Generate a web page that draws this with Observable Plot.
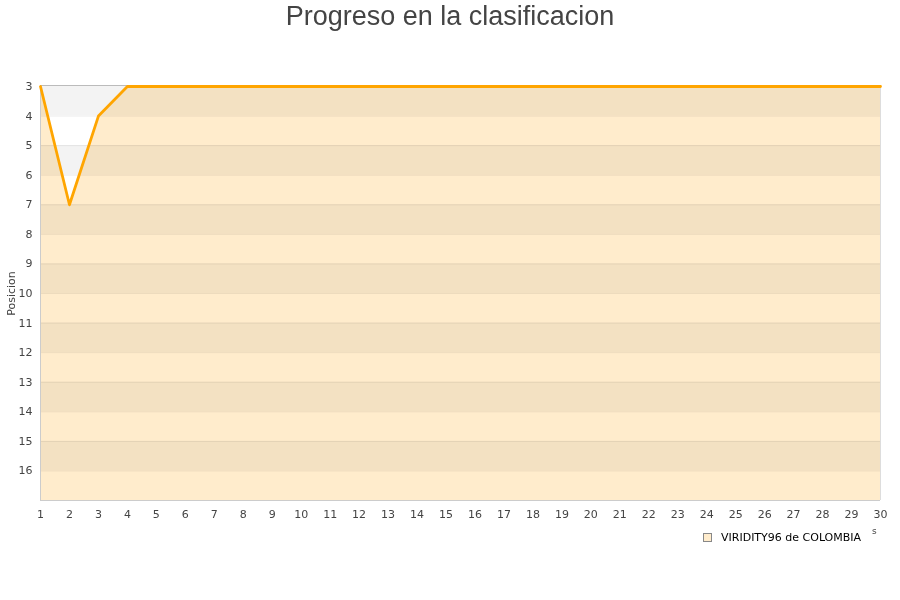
<!DOCTYPE html>
<html>
<head>
<meta charset="utf-8">
<script src="https://cdn.jsdelivr.net/npm/d3@7"></script>
<script src="https://cdn.jsdelivr.net/npm/@observablehq/plot@0.6"></script>
<style>
  html, body { margin: 0; padding: 0; background: #fff; }
  #wrap { position: relative; width: 900px; height: 600px; overflow: hidden; }
  #title { position: absolute; left: 0; top: 0; width: 900px; text-align: center;
           font-family: "Liberation Sans", Arial, sans-serif; font-size: 27px; color: #444; line-height: 32px; }
  #chart { position: absolute; left: 0; top: 50px; }
  #legend { position: absolute; left: 703px; top: 531px; font-family: "DejaVu Sans", sans-serif;
            font-size: 11px; color: #000; display: flex; align-items: center; }
  #legend .sw { width: 7px; height: 7px; border: 1px solid #888; background: #ffeccc; margin-right: 9px; }
  #xs { position: absolute; left: 872px; top: 526px; font-family: "DejaVu Sans", sans-serif; font-size: 9px; color: #444; }
</style>
</head>
<body>
<div id="wrap">
  <div id="title">Progreso en la clasificacion</div>
  <div id="chart"></div>
  <div id="legend"><span class="sw"></span><span>VIRIDITY96 de COLOMBIA</span></div>
  <div id="xs">s</div>
</div>
<script>
const jornadas = [1,2,3,4,5,6,7,8,9,10,11,12,13,14,15,16,17,18,19,20,21,22,23,24,25,26,27,28,29,30];
const posicion = [3,7,4,3,3,3,3,3,3,3,3,3,3,3,3,3,3,3,3,3,3,3,3,3,3,3,3,3,3,3];
const filas = [3,4,5,6,7,8,9,10,11,12,13,14,15,16];
const serie = "VIRIDITY96 de COLOMBIA";

const data = jornadas.map((j, i) => ({jornada: j, pos: posicion[i]}));
const rows = filas.map(f => ({y1: f, y2: f + 1, odd: f % 2 === 1}));

const chart = Plot.plot({
  width: 900,
  height: 480,
  marginTop: 36,
  marginBottom: 30,
  marginLeft: 40,
  marginRight: 20,
  style: {fontFamily: "DejaVu Sans, sans-serif", fontSize: "11px", color: "#444", background: "transparent"},
  x: {domain: [1, 30]},
  y: {domain: [3, 17], reverse: true},
  marks: [
    Plot.rect(rows, {x1: 1, x2: 30, y1: "y1", y2: "y2", fill: d => d.odd ? "#f3f3f3" : "#ffffff"}),
    Plot.areaY(data, {x: "jornada", y1: 17, y2: "pos", fill: "#ffeccc", mixBlendMode: "multiply"}),
    Plot.ruleY(filas.slice(1), {x1: 1, x2: 30, stroke: "#000", strokeOpacity: 0.07}),
    Plot.ruleY([3], {x1: 1, x2: 30, stroke: "#bbb", dy: -1}),
    Plot.ruleY([17], {x1: 1, x2: 30, stroke: "#ccc"}),
    Plot.ruleX([1], {y1: 3, y2: 17, stroke: "#ccc"}),
    Plot.ruleX([30], {y1: 3, y2: 17, stroke: "#ddd"}),
    Plot.line(data, {x: "jornada", y: "pos", stroke: "#ffa500", strokeWidth: 2.8}),
    Plot.axisY({ticks: filas, tickSize: 0, tickPadding: 8, label: "Posicion", labelAnchor: "center", labelArrow: "none", labelOffset: 33, fontSize: 11}),
    Plot.axisX({ticks: jornadas, tickSize: 0, tickPadding: 10, tickFormat: d => String(d), label: null})
  ]
});
document.getElementById("chart").appendChild(chart);
</script>
</body>
</html>
